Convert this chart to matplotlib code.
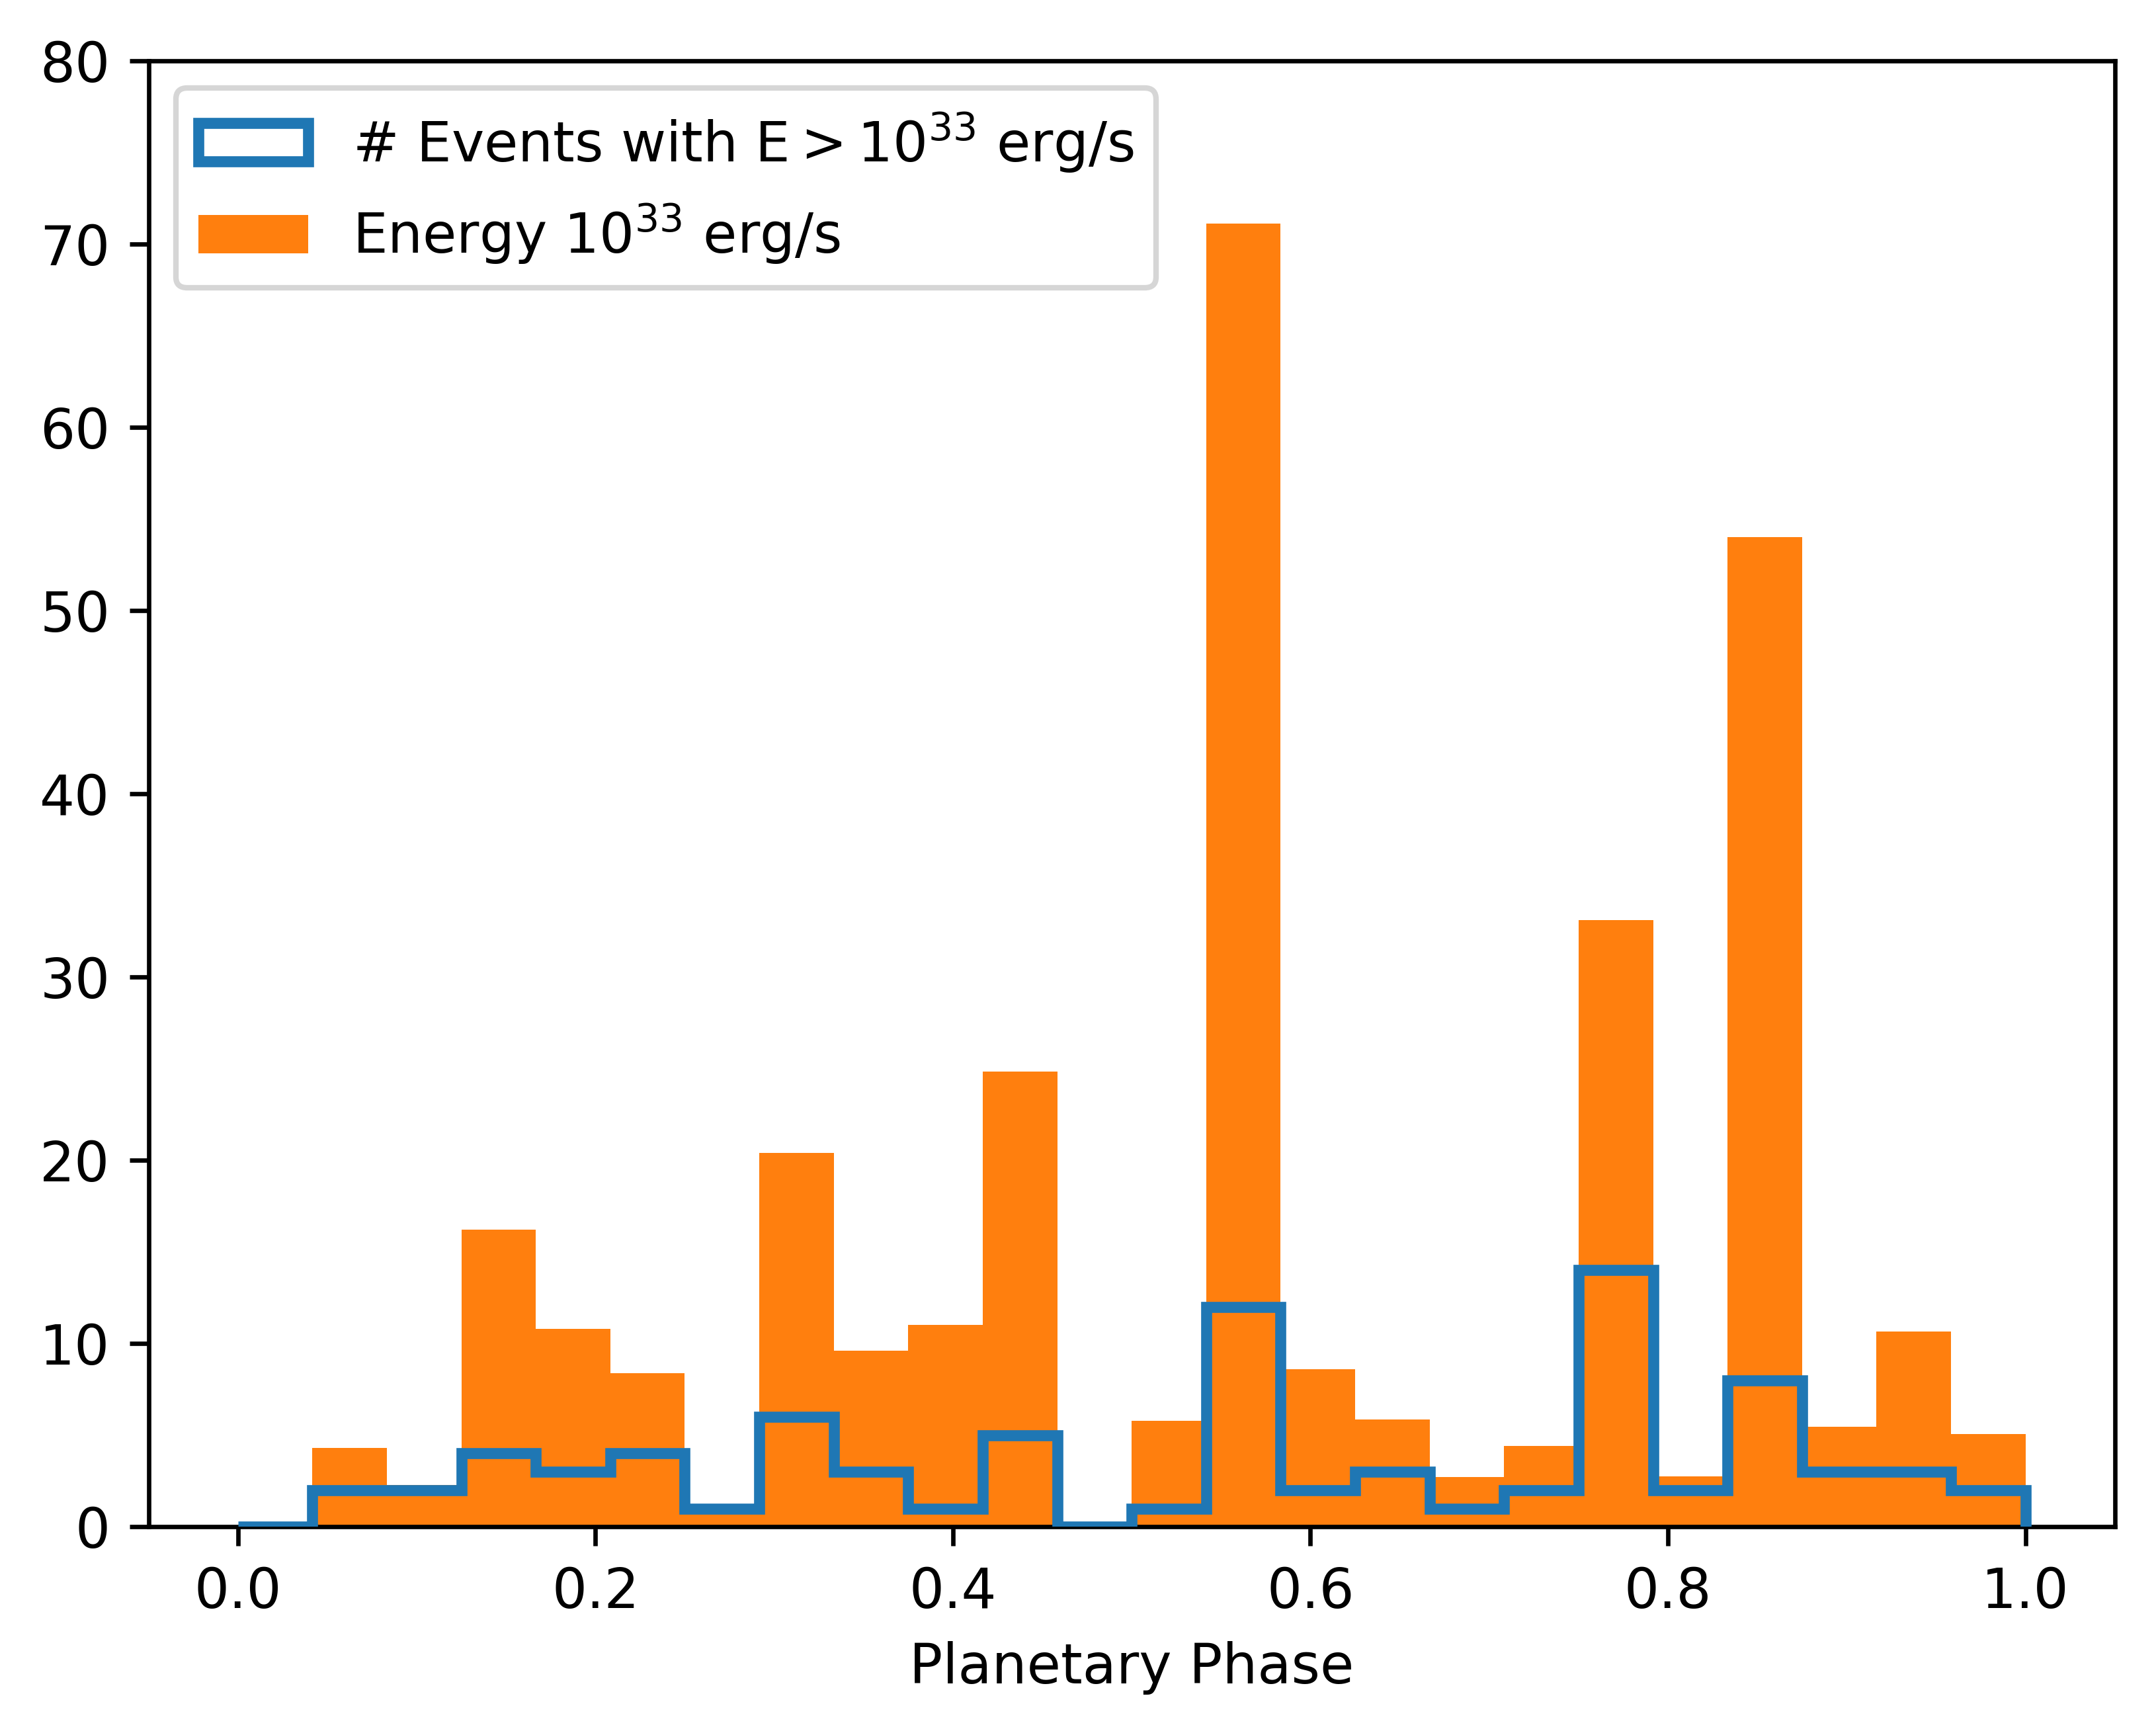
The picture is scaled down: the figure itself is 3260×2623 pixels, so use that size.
import numpy as np
from matplotlib import pyplot as plt

N_BINS = 24
phase_edges = np.linspace(0, 1, N_BINS + 1)
phase_centers = 0.5 * (phase_edges[:-1] + phase_edges[1:])

# Number of events with E > 1e33 erg/s per phase bin
event_counts = [0, 2, 2, 4, 3, 4, 1, 6, 3, 1, 5, 0,
                1, 12, 2, 3, 1, 2, 14, 2, 8, 3, 3, 2]
# Summed energy (units of 1e33 erg/s) per phase bin
energy = [0, 4.3, 2.3, 16.2, 10.8, 8.4, 0.9, 20.4, 9.6, 11.0, 24.85, 0,
          5.8, 71.1, 8.6, 5.85, 2.7, 4.4, 33.1, 2.75, 54.0, 5.45, 10.65, 5.05]

fig = plt.figure(figsize=(3260 / 600, 2623 / 600), dpi=600)
ax = fig.add_axes([0.0689, 0.120, 0.912, 0.845])

ax.hist(phase_centers, bins=phase_edges, weights=event_counts, histtype="step",
        lw=2, color="tab:blue", zorder=3,
        label=r"# Events with E$>10^{33}$ erg/s")
ax.hist(phase_centers, bins=phase_edges, weights=energy, color="tab:orange",
        zorder=2, label=r"Energy $10^{33}$ erg/s")

ax.set_ylim(0, 80)
ax.set_xlabel("Planetary Phase")
ax.legend(loc="upper left")

fig.savefig("out.png", dpi=600)
